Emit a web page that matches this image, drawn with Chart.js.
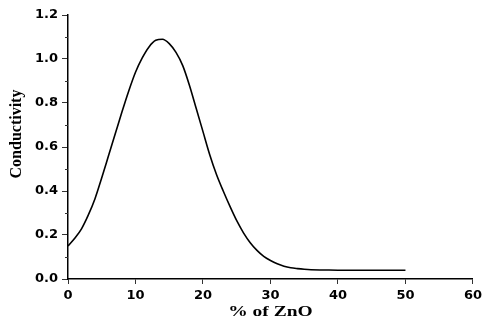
<!DOCTYPE html>
<html>
<head>
<meta charset="utf-8">
<script src="https://cdn.jsdelivr.net/npm/chart.js@4/dist/chart.umd.min.js"></script>
<style>
  html, body { margin: 0; padding: 0; background: #fff; }
  #wrap { width: 486px; height: 334px; }
</style>
</head>
<body>
<div id="wrap"><canvas id="chart"></canvas></div>
<script>
const zno = [0, 1, 2, 3, 4, 5, 6, 7, 8, 9, 10, 11, 12, 13, 14, 15, 16, 17, 18, 19, 20,
  21, 22, 23, 24, 25, 26, 27, 28, 29, 30, 31, 32, 33, 34, 35, 36, 38, 40, 45, 50];
const conductivity = [0.150, 0.185, 0.228, 0.290, 0.365, 0.460, 0.560, 0.660, 0.760, 0.855, 0.940,
  1.005, 1.055, 1.085, 1.090, 1.070, 1.030, 0.970, 0.880, 0.775, 0.670,
  0.565, 0.475, 0.400, 0.330, 0.265, 0.210, 0.165, 0.130, 0.103, 0.084,
  0.069, 0.058, 0.051, 0.047, 0.044, 0.042, 0.041, 0.040, 0.040, 0.040];
const xTicks = [0, 10, 20, 30, 40, 50, 60];
const yTicks = [0.0, 0.2, 0.4, 0.6, 0.8, 1.0, 1.2];
const yMinorTicks = [0.1, 0.3, 0.5, 0.7, 0.9, 1.1];

const tickFont = { family: 'DejaVu Sans, sans-serif', size: 13, weight: 'bold' };
const titleFont = 'bold 15px "Liberation Serif", "Times New Roman", serif';

// minor y ticks and both axis titles (the titles are a bit wide in the original)
const extras = {
  id: 'extras',
  afterDraw(chart) {
    const ctx = chart.ctx;
    const y = chart.scales.y;
    const area = chart.chartArea;
    ctx.save();
    ctx.strokeStyle = '#333';
    ctx.lineWidth = 1;
    yMinorTicks.forEach(v => {
      const py = Math.round(y.getPixelForValue(v)) + 0.5;
      ctx.beginPath();
      ctx.moveTo(area.left - 3, py);
      ctx.lineTo(area.left, py);
      ctx.stroke();
    });
    ctx.fillStyle = '#000';
    ctx.textAlign = 'center';

    ctx.save();
    ctx.translate((area.left + area.right) / 2, 316);
    ctx.scale(1.3, 1);
    ctx.font = titleFont;
    ctx.textBaseline = 'alphabetic';
    ctx.fillText('% of ZnO', 0, 0);
    ctx.restore();

    ctx.save();
    ctx.translate(17, 134);
    ctx.rotate(-Math.PI / 2);
    ctx.font = 'bold 16px "Liberation Serif", "Times New Roman", serif';
    ctx.textBaseline = 'middle';
    ctx.fillText('Conductivity', 0, 0);
    ctx.restore();

    ctx.restore();
  }
};

new Chart(document.getElementById('chart'), {
  type: 'line',
  data: {
    datasets: [{
      data: zno.map((v, i) => ({ x: v, y: conductivity[i] })),
      borderColor: '#000',
      borderWidth: 1.6,
      pointRadius: 0,
      fill: false,
      cubicInterpolationMode: 'monotone'
    }]
  },
  options: {
    responsive: true,
    maintainAspectRatio: false,
    animation: false,
    layout: { padding: { top: 15, right: 11, left: 0, bottom: 0 } },
    plugins: { legend: { display: false }, tooltip: { enabled: false } },
    scales: {
      x: {
        type: 'linear',
        min: 0,
        max: 60,
        afterBuildTicks: s => { s.ticks = xTicks.map(v => ({ value: v })); },
        afterFit: s => { s.height = 55; },
        border: { color: '#000', width: 1.5 },
        grid: { drawOnChartArea: false, drawTicks: true, tickLength: 5, color: '#333' },
        ticks: { color: '#000', font: tickFont, padding: 4, maxRotation: 0 }
      },
      y: {
        min: 0,
        max: 1.2,
        afterBuildTicks: s => { s.ticks = yTicks.map(v => ({ value: v })); },
        afterFit: s => { s.width = 68; },
        border: { color: '#000', width: 1.5 },
        grid: { drawOnChartArea: false, drawTicks: true, tickLength: 6, color: '#333' },
        ticks: { color: '#000', font: tickFont, padding: 4, callback: v => v.toFixed(1) }
      }
    }
  },
  plugins: [extras]
});
</script>
</body>
</html>
